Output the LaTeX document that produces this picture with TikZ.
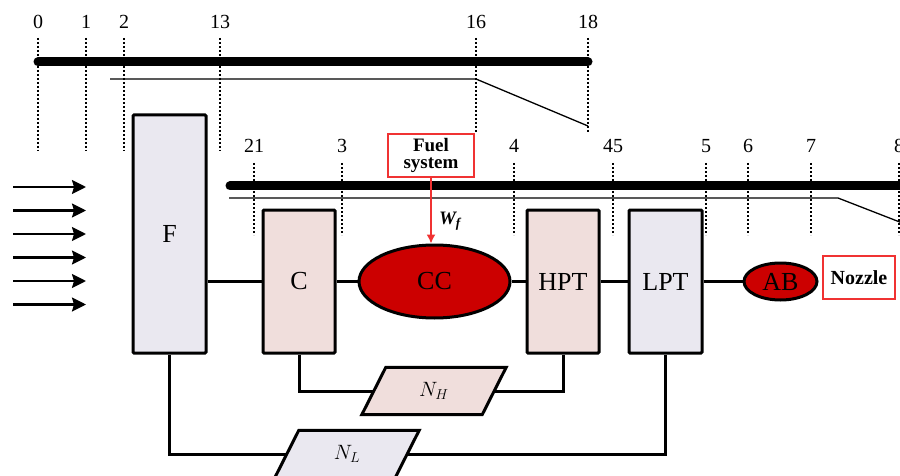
\documentclass[tikz,border=0pt]{standalone}
\usepackage{fontspec}
\setmainfont{Liberation Serif}
\usetikzlibrary{arrows.meta,shapes.geometric,backgrounds}
\definecolor{lav}{RGB}{234,232,240}
\definecolor{pinkf}{RGB}{240,222,220}
\definecolor{ccred}{RGB}{204,0,0}
\definecolor{boxred}{RGB}{240,50,50}
\begin{document}
\begin{tikzpicture}[x=1pt,y=-1pt,
 blk/.style={draw,line width=3pt,rounded corners=1pt,inner sep=0pt,font=\fontsize{26}{30}\selectfont},
 lavblk/.style={blk,fill=lav},
 pinkblk/.style={blk,fill=pinkf},
 burner/.style={ellipse,draw,line width=3pt,fill=ccred,inner sep=0pt,font=\fontsize{26}{30}\selectfont},
 stn/.style={font=\fontsize{20}{24}\selectfont,inner sep=0pt,anchor=base},
 dotline/.style={line width=1.2pt,dash pattern=on 2pt off 2pt},
 bar/.style={line width=9pt,line cap=round},
 thinline/.style={line width=1.3pt},
 shaft/.style={line width=3pt},
 flow/.style={line width=2.2pt,-{Stealth[length=14pt,width=14pt,inset=2pt]}},
 redbox/.style={draw=boxred,line width=1.2pt,fill=white,inner sep=0pt,align=center,font=\bfseries\fontsize{19}{17.5}\selectfont},
 spd/.style={inner sep=0pt,minimum width=120pt,minimum height=47pt,font=\fontsize{21}{24}\selectfont},
 para/.style={draw,line width=3pt,line join=miter}]
\useasboundingbox (0,0) rectangle (900,476);

% ---- top station row
\foreach \nm/\xx in {0/38,1/86,2/124,13/220}{
  \node[stn] (s\nm) at (\xx,29) {\nm};
  \draw[dotline] ([yshift=-9pt]s\nm.base) -- ++(0,113);
}
\foreach \nm/\xx in {16/476,18/588}{
  \node[stn] (s\nm) at (\xx,29) {\nm};
  \draw[dotline] ([yshift=-9pt]s\nm.base) -- ++(0,94);
}
\draw[bar] (38,62) -- (588,62);
\draw[thinline] (110,79) -- (476,79) -- (588,126);

% ---- second station row
\foreach \nm/\xx in {21/254,3/342,4/514,45/613,5/706,6/748,7/811,8/899}{
  \node[stn] (t\nm) at (\xx,153) {\nm};
  \draw[dotline] ([yshift=-10pt]t\nm.base) -- ++(0,72);
}
\draw[bar] (230,186) -- (915,186);
\draw[thinline] (229,198) -- (838,198) -- (910,226);

% ---- inlet flow arrows
\foreach \yy [count=\i] in {187,210.5,234,257.5,281,304.5}{
  \coordinate (fa\i) at (13,\yy);
  \coordinate (fb\i) at (86,\yy);
  \draw[flow] (fa\i) -- (fb\i);
}

% ---- components
\node[lavblk,minimum width=73pt,minimum height=238pt] (F) at (169.5,234) {F};
\node[pinkblk,minimum width=72pt,minimum height=143pt] (C) at (299,281.5) {C};
\node[burner,minimum width=151pt,minimum height=73pt] (CC) at (434.5,281.5) {CC};
\node[pinkblk,minimum width=72pt,minimum height=143pt] (HPT) at (563,281.5) {HPT};
\node[lavblk,minimum width=73pt,minimum height=143pt] (LPT) at (665.5,281.5) {LPT};
\node[burner,minimum width=73pt,minimum height=37pt] (AB) at (780.5,281.5) {AB};
\node[redbox,minimum width=72pt,minimum height=43pt,font=\bfseries\fontsize{20}{22}\selectfont] (noz) at (859,277.5) {Nozzle};
\node[redbox,minimum width=86pt,minimum height=43pt] (fuel) at (431,155.5) {Fuel\\system};
\node[font=\bfseries\itshape\fontsize{19}{20}\selectfont,inner sep=0pt] (wf) at (450,221) {W\textsubscript{f}};

% ---- spool speed blocks
\node[spd] (nh) at (434,391) {$N_H$};
\node[spd] (nl) at (347,454) {$N_L$};
\begin{scope}[on background layer]
\draw[para,fill=pinkf] ([xshift=12pt]nh.north west) -- ([xshift=12pt]nh.north east) -- ([xshift=-12pt]nh.south east) -- ([xshift=-12pt]nh.south west) -- cycle;
\draw[para,fill=lav] ([xshift=12pt]nl.north west) -- ([xshift=12pt]nl.north east) -- ([xshift=-12pt]nl.south east) -- ([xshift=-12pt]nl.south west) -- cycle;
\end{scope}

% ---- connectors
\draw[shaft] (F.east |- C.west) -- (C.west);
\draw[shaft] (C) -- (CC);
\draw[shaft] (CC) -- (HPT);
\draw[shaft] (HPT) -- (LPT);
\draw[shaft] (LPT) -- (AB);
\draw[shaft] (C.south) |- (nh.west);
\draw[shaft] (nh.east) -| (HPT.south);
\draw[shaft] (F.south) |- (nl.west);
\draw[shaft] (nl.east) -| (LPT.south);
\draw[line width=1.5pt,boxred,-{Latex[length=9pt,width=9pt]}] (fuel.south) -- (fuel.south |- CC.north);
\end{tikzpicture}
\end{document}
